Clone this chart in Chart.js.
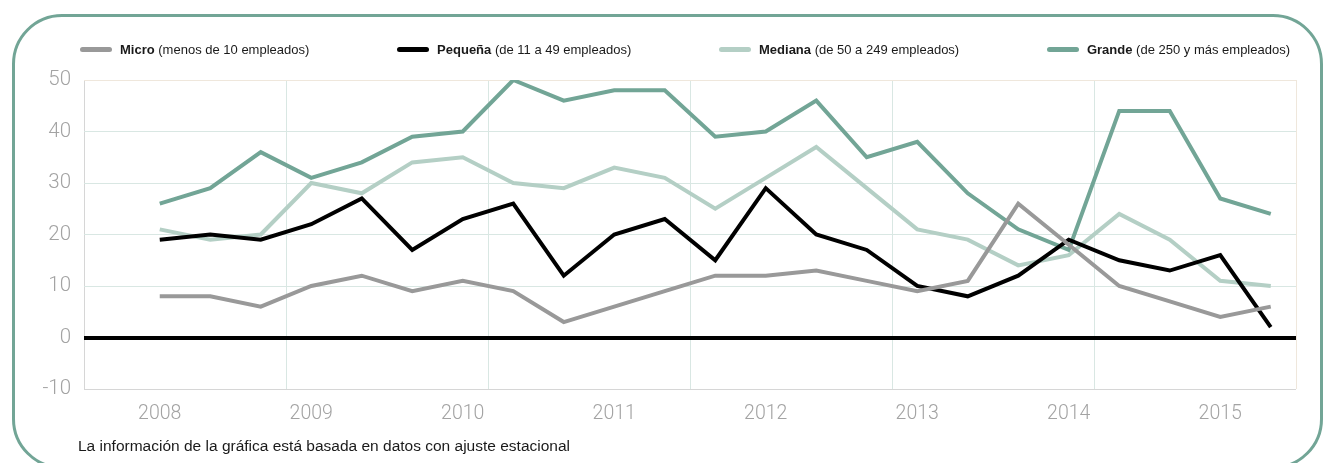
<!DOCTYPE html>
<html>
<head>
<meta charset="utf-8">
<script src="https://cdn.jsdelivr.net/npm/chart.js@4.4.1/dist/chart.umd.min.js"></script>
<style>
  html, body { margin: 0; padding: 0; background: #fff; }
  #wrap { position: relative; width: 1325px; height: 463px; overflow: hidden; font-family: "Liberation Sans", Arial, sans-serif; }
  #frame { position: absolute; left: 12px; top: 14px; width: 1311px; height: 455px; box-sizing: border-box;
           border: 3px solid #72a596; border-radius: 50px; }
  #chart-canvas { position: absolute; left: 0; top: 0; }
  #legend { position: absolute; left: 80px; top: 41px; width: 1210px; display: flex; justify-content: space-between;
            font-size: 13px; color: #1a1a1a; line-height: 18px; }
  #legend .sw { display: inline-block; width: 32px; height: 5px; border-radius: 3px; vertical-align: middle; margin-right: 8px; position: relative; top: -1px; }
  #legend b { font-weight: bold; }
  #note { position: absolute; left: 78px; top: 437px; font-size: 15.5px; color: #1a1a1a; }
</style>
</head>
<body>
<div id="wrap">
  <div id="frame"></div>
  <canvas id="chart-canvas" width="1325" height="463"></canvas>
  <div id="legend"></div>
  <div id="note">La información de la gráfica está basada en datos con ajuste estacional</div>
</div>
<script>
//////////////////////////////////////////////////
/////       Data (quarterly, 2008 - 2015)   //////
//////////////////////////////////////////////////

var yearLabels = ["2008", "2009", "2010", "2011", "2012", "2013", "2014", "2015"];
var yearIndex = [0, 3, 6, 9, 12, 15, 18, 21];

var seriesNames = ["Micro", "Pequeña", "Mediana", "Grande"];
var seriesNotes = ["(menos de 10 empleados)", "(de 11 a 49 empleados)", "(de 50 a 249 empleados)", "(de 250 y más empleados)"];
var seriesColors = ["#999999", "#000000", "#b4cfc5", "#72a596"];

var micro   = [8, 8, 6, 10, 12, 9, 11, 9, 3, 6, 9, 12, 12, 13, 11, 9, 11, 26, 18, 10, 7, 4, 6];
var pequena = [19, 20, 19, 22, 27, 17, 23, 26, 12, 20, 23, 15, 29, 20, 17, 10, 8, 12, 19, 15, 13, 16, 2];
var mediana = [21, 19, 20, 30, 28, 34, 35, 30, 29, 33, 31, 25, 31, 37, 29, 21, 19, 14, 16, 24, 19, 11, 10];
var grande  = [26, 29, 36, 31, 34, 39, 40, 50, 46, 48, 48, 39, 40, 46, 35, 38, 28, 21, 17, 44, 44, 27, 24];

var yTicks = [-10, 0, 10, 20, 30, 40, 50];

function toPoints(arr) {
    return arr.map(function (v, i) { return { x: i, y: v }; });
}

var allSeries = [micro, pequena, mediana, grande];

// legend (mixed bold / regular text, so built as html)
var legend = document.getElementById('legend');
seriesNames.forEach(function (name, i) {
    var item = document.createElement('div');
    item.innerHTML = '<span class="sw" style="background:' + seriesColors[i] + '"></span><b>' + name + '</b> ' + seriesNotes[i];
    legend.appendChild(item);
});

var gridX = [];
for (var g = -1.5; g <= 22.5; g += 4) gridX.push(g);

var ctx = document.getElementById('chart-canvas').getContext('2d');
var myChart = new Chart(ctx, {
    type: 'line',
    data: {
        datasets: allSeries.map(function (arr, i) {
            return {
                label: seriesNames[i],
                data: toPoints(arr),
                borderColor: seriesColors[i],
                backgroundColor: seriesColors[i],
                borderWidth: 4,
                pointRadius: 0,
                tension: 0,
                fill: false,
                order: i
            };
        })
    },
    options: {
        responsive: false,
        animation: false,
        layout: { padding: { left: 0, right: 29, top: 80, bottom: 0 } },
        plugins: { legend: { display: false }, tooltip: { enabled: false } },
        scales: {
            x: {
                type: 'linear', position: 'bottom', min: -1.5, max: 22.5,
                afterBuildTicks: function (s) { s.ticks = gridX.map(function (v) { return { value: v }; }); },
                afterFit: function (s) { s.height = 0; },
                ticks: { display: false },
                border: { display: false },
                grid: {
                    drawTicks: false,
                    color: function (c) {
                        if (c.tick.value === 22.5) return '#efe7dc';
                        if (c.tick.value === -1.5) return '#d6d6d6';
                        return '#d9e7e3';
                    }
                }
            },
            xl: {
                type: 'linear', position: 'bottom', min: -1.5, max: 22.5,
                afterBuildTicks: function (s) { s.ticks = yearIndex.map(function (v) { return { value: v }; }); },
                afterFit: function (s) { s.height = 74; },
                grid: { display: false, drawTicks: false },
                border: { display: false },
                ticks: {
                    padding: 13,
                    color: '#a3a3a3',
                    font: { family: 'Roboto', weight: 300, size: 19.5 },
                    callback: function (v) { return yearLabels[yearIndex.indexOf(v)]; }
                }
            },
            y: {
                min: -10, max: 50,
                afterBuildTicks: function (s) { s.ticks = yTicks.map(function (v) { return { value: v }; }); },
                afterFit: function (s) { s.width = 84; },
                border: { display: false },
                ticks: {
                    padding: 13,
                    color: '#a3a3a3',
                    font: { family: 'Roboto', weight: 300, size: 20.5 }
                },
                grid: {
                    drawTicks: false,
                    lineWidth: function (c) { return c.tick.value === 0 ? 4 : 1; },
                    color: function (c) {
                        if (c.tick.value === 0) return '#000000';
                        if (c.tick.value === 50) return '#efe7dc';
                        if (c.tick.value === -10) return '#d6d6d6';
                        return '#d9e7e3';
                    }
                }
            }
        }
    }
});
</script>
</body>
</html>
